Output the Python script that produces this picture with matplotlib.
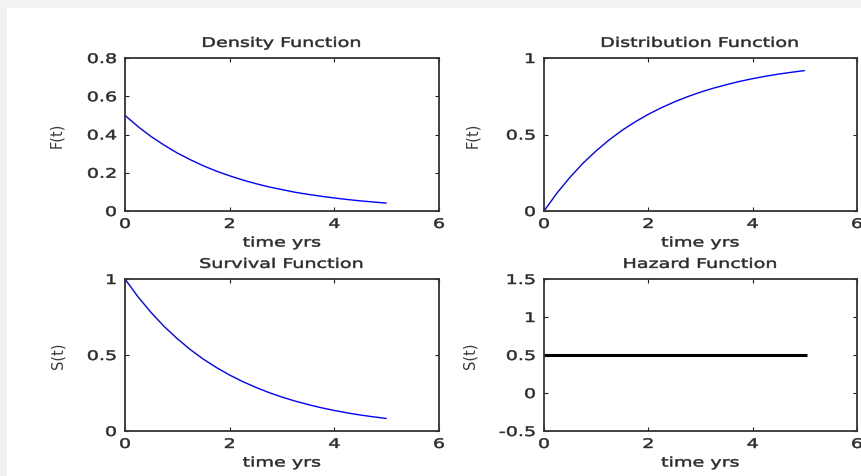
import matplotlib
matplotlib.use("Agg")
import matplotlib.pyplot as plt
from matplotlib.patches import Rectangle
from matplotlib.patheffects import AbstractPathEffect
from matplotlib.transforms import Affine2D

# ---- data ----
t = [0.0, 0.25, 0.5, 0.75, 1.0, 1.25, 1.5, 1.75, 2.0, 2.25, 2.5,
     2.75, 3.0, 3.25, 3.5, 3.75, 4.0, 4.25, 4.5, 4.75, 5.0]
density = [0.500, 0.441, 0.389, 0.344, 0.303, 0.268, 0.236, 0.208, 0.184, 0.162, 0.143,
           0.126, 0.112, 0.098, 0.087, 0.077, 0.068, 0.060, 0.053, 0.047, 0.041]
distribution = [0.000, 0.118, 0.221, 0.313, 0.393, 0.465, 0.528, 0.583, 0.632, 0.675, 0.713,
                0.747, 0.777, 0.803, 0.826, 0.847, 0.865, 0.881, 0.895, 0.907, 0.918]
survival = [1.000, 0.882, 0.779, 0.687, 0.607, 0.535, 0.472, 0.417, 0.368, 0.325, 0.287,
            0.253, 0.223, 0.197, 0.174, 0.153, 0.135, 0.119, 0.105, 0.093, 0.082]
hazard_t = [0.0, 5.05]
hazard = [0.5, 0.5]

titles = ["Density Function", "Distribution Function", "Survival Function", "Hazard Function"]
ylabels = ["F(t)", "F(t)", "S(t)", "S(t)"]
xlabel = "time yrs"
xticks = [0, 2, 4, 6]
yticks_list = [[0, 0.2, 0.4, 0.6, 0.8], [0, 0.5, 1], [0, 0.5, 1], [-0.5, 0, 0.5, 1, 1.5]]
yticklabels_list = [["0", "0.2", "0.4", "0.6", "0.8"], ["0", "0.5", "1"], ["0", "0.5", "1"],
                    ["-0.5", "0", "0.5", "1", "1.5"]]


class Stretch(AbstractPathEffect):
    """Widen glyphs horizontally (the reference text is horizontally stretched)."""
    def __init__(self, sx, anchor="center", stroke=0.35):
        super().__init__()
        self.sx = sx
        self.anchor = anchor
        self.stroke = stroke

    def draw_path(self, renderer, gc, tpath, affine, rgbFace=None):
        ext = tpath.get_extents()
        if self.anchor == "center":
            cx = (ext.x0 + ext.x1) / 2
        elif self.anchor == "right":
            cx = ext.x1
        else:
            cx = ext.x0
        pre = Affine2D().translate(-cx, 0).scale(self.sx, 1).translate(cx, 0)
        gc0 = renderer.new_gc()
        gc0.copy_properties(gc)
        gc0.set_linewidth(self.stroke)
        renderer.draw_path(gc0, tpath, pre + affine, rgbFace)
        gc0.restore()


W, H = 861, 477
fig = plt.figure(figsize=(W / 100, H / 100), dpi=100)
fig.patch.set_facecolor("white")
fig.add_artist(Rectangle((0, 1 - 9 / H), 1, 9 / H, transform=fig.transFigure,
                         facecolor="#f2f2f2", edgecolor="none", zorder=-10))
fig.add_artist(Rectangle((0, 0), 7 / W, 1, transform=fig.transFigure,
                         facecolor="#f2f2f2", edgecolor="none", zorder=-10))

# axes boxes in pixels: left, right, top, bottom
boxes = [(125, 439, 59, 212), (544, 857, 59, 212), (125, 439, 280, 432), (544, 857, 280, 432)]
ylabel_right = [64, 480, 65, 477]

FS = 9.5
SX = 1.45
TXT = "#2b2b2b"
series = [(t, density, "#0000ff", 1.0), (t, distribution, "#0000ff", 1.0),
          (t, survival, "#0000ff", 1.0), (hazard_t, hazard, "black", 2.2)]

for i, (l, r, tp, bt) in enumerate(boxes):
    ax = fig.add_axes([l / W, 1 - bt / H, (r - l) / W, (bt - tp) / H])
    x, y, c, lw = series[i]
    ax.plot(x, y, color=c, lw=lw, solid_capstyle="butt")
    ax.set_xlim(0, 6)
    ax.set_ylim(yticks_list[i][0], yticks_list[i][-1])
    ax.set_xticks(xticks)
    ax.set_xticklabels([str(v) for v in xticks])
    ax.set_yticks(yticks_list[i])
    ax.set_yticklabels(yticklabels_list[i])
    ax.tick_params(direction="in", length=3, width=0.8, top=True, right=True,
                   colors="#222222", labelsize=FS, labelcolor=TXT)
    ax.tick_params(axis="x", pad=5)
    ax.tick_params(axis="y", pad=6)
    for s in ax.spines.values():
        s.set_linewidth(1.3)
        s.set_color("#333333")
    title = ax.set_title(titles[i], fontsize=FS, color=TXT, pad=8)
    title.set_path_effects([Stretch(SX, "center")])
    xl = ax.set_xlabel(xlabel, fontsize=FS, color=TXT, labelpad=4)
    xl.set_path_effects([Stretch(SX, "center")])
    yl = ax.set_ylabel(ylabels[i], fontsize=10.5, color="#3a3a3a")
    ax.yaxis.set_label_coords((ylabel_right[i] - l) / (r - l), 0.5)
    for lab in ax.get_xticklabels():
        lab.set_path_effects([Stretch(SX, "center")])
    for lab in ax.get_yticklabels():
        lab.set_path_effects([Stretch(SX, "right")])

fig.savefig("out.png", dpi=100, facecolor=fig.get_facecolor())
